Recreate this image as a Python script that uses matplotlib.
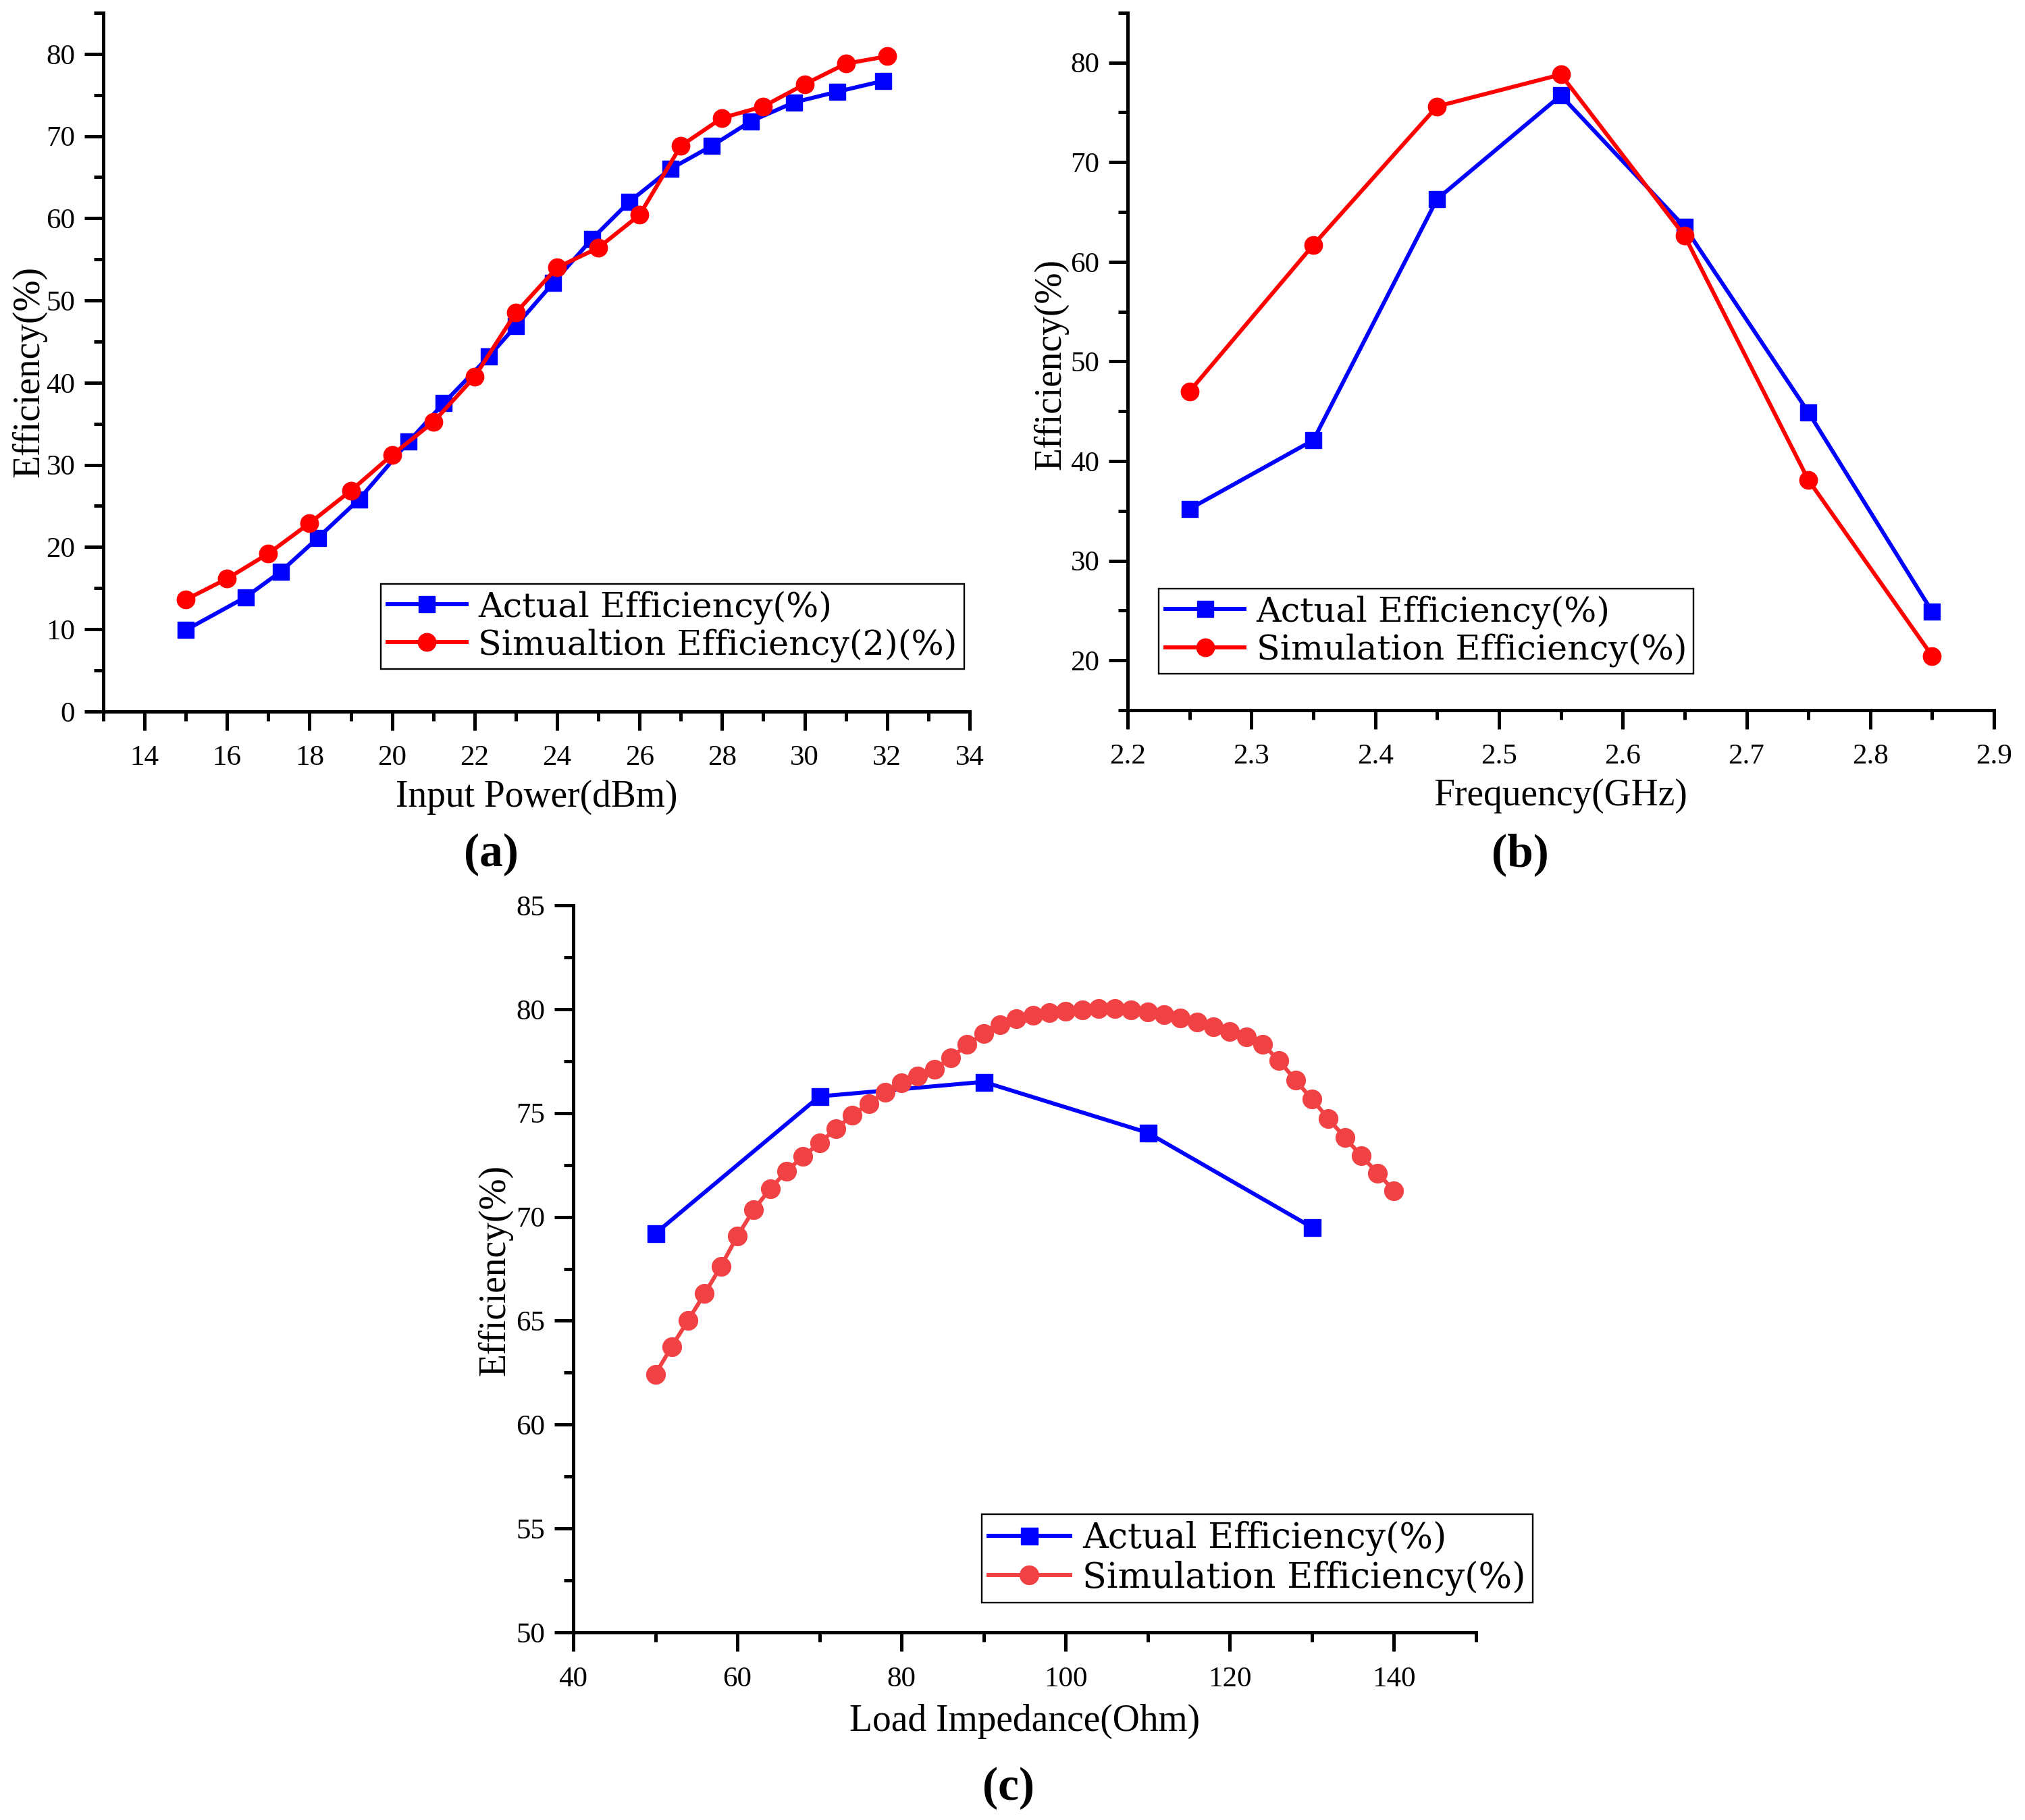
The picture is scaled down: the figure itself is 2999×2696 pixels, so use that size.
import matplotlib
matplotlib.use("Agg")
import matplotlib.pyplot as plt
from matplotlib.ticker import MultipleLocator

# ---------------- data ----------------
# (a) efficiency vs input power
a_act_x = [15.0, 16.45, 17.3, 18.2, 19.2, 20.4, 21.25, 22.35, 23.0, 23.9,
           24.85, 25.75, 26.75, 27.75, 28.7, 29.75, 30.8, 31.9]
a_act_y = [9.9, 13.9, 17.0, 21.1, 25.8, 32.8, 37.5, 43.2, 46.9, 52.1,
           57.5, 62.0, 66.0, 68.8, 71.8, 74.1, 75.4, 76.7]
a_sim_x = [15, 16, 17, 18, 19, 20, 21, 22, 23, 24, 25, 26, 27, 28, 29, 30, 31, 32]
a_sim_y = [13.6, 16.15, 19.2, 22.9, 26.85, 31.2, 35.2, 40.7, 48.5, 54.0,
           56.4, 60.4, 68.8, 72.2, 73.6, 76.3, 78.8, 79.7]

# (b) efficiency vs frequency
b_freq = [2.25, 2.35, 2.45, 2.55, 2.65, 2.75, 2.85]
b_act_y = [35.2, 42.1, 66.3, 76.7, 63.5, 44.9, 24.9]
b_sim_y = [47.0, 61.7, 75.6, 78.8, 62.6, 38.1, 20.45]

# (c) efficiency vs load impedance
c_act_x = [50, 70, 90, 110, 130]
c_act_y = [69.2, 75.8, 76.5, 74.05, 69.5]
c_sim_x = [50, 52, 54, 56, 58, 60, 62, 64, 66, 68, 70, 72, 74, 76, 78, 80,
           82, 84, 86, 88, 90, 92, 94, 96, 98, 100, 102, 104, 106, 108, 110,
           112, 114, 116, 118, 120, 122, 124, 126, 128, 130, 132, 134, 136,
           138, 140]
c_sim_y = [62.43, 63.76, 65.03, 66.3, 67.63, 69.08, 70.35, 71.36, 72.2, 72.92,
           73.55, 74.25, 74.88, 75.46, 76.01, 76.45, 76.79, 77.11, 77.66, 78.29,
           78.82, 79.25, 79.54, 79.71, 79.83, 79.91, 79.97, 80.03, 80.03, 79.97,
           79.88, 79.74, 79.57, 79.39, 79.16, 78.93, 78.67, 78.32, 77.51, 76.59,
           75.66, 74.74, 73.82, 72.95, 72.11, 71.27]

lbl_a = ["Actual Efficiency(%)", "Simualtion Efficiency(2)(%)"]
lbl_b = ["Actual Efficiency(%)", "Simulation Efficiency(%)"]
lbl_c = ["Actual Efficiency(%)", "Simulation Efficiency(%)"]

# ---------------- style ----------------
FONT = ["Liberation Serif", "DejaVu Serif"]
LEGFONT = ["DejaVu Serif", "Liberation Serif"]
plt.rcParams["font.family"] = FONT
LAB = 40
TICK = 31
BLUE = "#0000FF"
RED = "#FF0000"
RED_C = "#F04244"
LW = 4.3
SPINE = 3.6

fig = plt.figure(figsize=(29.99, 26.96), dpi=100)


def style_axes(ax, xmaj, xmin, ymaj, ymin):
    for s in ["top", "right"]:
        ax.spines[s].set_visible(False)
    for s in ["left", "bottom"]:
        ax.spines[s].set_linewidth(SPINE)
    ax.xaxis.set_major_locator(MultipleLocator(xmaj))
    ax.yaxis.set_major_locator(MultipleLocator(ymaj))
    if xmin:
        ax.xaxis.set_minor_locator(MultipleLocator(xmin))
    if ymin:
        ax.yaxis.set_minor_locator(MultipleLocator(ymin))
    ax.tick_params(axis="both", which="major", direction="out", length=20,
                   width=SPINE, labelsize=TICK)
    ax.tick_params(axis="both", which="minor", direction="out", length=10,
                   width=SPINE)
    ax.tick_params(axis="x", which="major", pad=16)
    ax.tick_params(axis="y", which="major", pad=10)


def add_legend(ax, anchor, size):
    leg = ax.legend(loc="lower left", bbox_to_anchor=anchor,
                    prop={"family": LEGFONT, "size": size},
                    frameon=True, fancybox=False, borderaxespad=0,
                    handlelength=2.3, handletextpad=0.35, borderpad=0.2,
                    labelspacing=0.12, edgecolor="black", framealpha=1)
    leg.get_frame().set_linewidth(1.7)
    return leg


def labels(ax, xl, yl, xpos, ypos):
    ax.set_xlabel(xl, fontsize=LAB, va="center", ha="center")
    ax.xaxis.set_label_coords(0.5, xpos)
    ax.set_ylabel(yl, fontsize=LAB, va="center", ha="center")
    ax.yaxis.set_label_coords(ypos[0], ypos[1])


# ---- (a) ----
ax1 = fig.add_axes([0.0510, 0.6091, 0.4278, 0.3839])
ax1.plot(a_act_x, a_act_y, color=BLUE, lw=LW, marker="s", ms=17,
         label=lbl_a[0])
ax1.plot(a_sim_x, a_sim_y, color=RED, lw=LW, marker="o", ms=19,
         label=lbl_a[1])
ax1.set_xlim(13, 34)
ax1.set_ylim(0, 85)
style_axes(ax1, 2, 1, 10, 5)
labels(ax1, "Input Power(dBm)", "Efficiency(%)", -0.123, (-0.0855, 0.486))
add_legend(ax1, (0.3203, 0.0609), 36.5)

# ---- (b) ----
ax2 = fig.add_axes([0.5569, 0.6098, 0.4278, 0.3832])
ax2.plot(b_freq, b_act_y, color=BLUE, lw=LW, marker="s", ms=17,
         label=lbl_b[0])
ax2.plot(b_freq, b_sim_y, color=RED, lw=LW, marker="o", ms=19,
         label=lbl_b[1])
ax2.set_xlim(2.2, 2.9)
ax2.set_ylim(15, 85)
style_axes(ax2, 0.1, 0.05, 10, 5)
labels(ax2, "Frequency(GHz)", "Efficiency(%)", -0.123, (-0.0885, 0.496))
add_legend(ax2, (0.0358, 0.0523), 36.5)

# ---- (c) ----
ax3 = fig.add_axes([0.2831, 0.1031, 0.4458, 0.3995])
ax3.plot(c_act_x, c_act_y, color=BLUE, lw=LW, marker="s", ms=18,
         label=lbl_c[0])
ax3.plot(c_sim_x, c_sim_y, color=RED_C, lw=LW, marker="o", ms=20,
         label=lbl_c[1])
ax3.set_xlim(40, 150)
ax3.set_ylim(50, 85)
style_axes(ax3, 20, 10, 5, 2.5)
labels(ax3, "Load Impedance(Ohm)", "Efficiency(%)", -0.1225, (-0.0868, 0.498))
add_legend(ax3, (0.4525, 0.0409), 37.6)

# panel tags
for txt, x, y in [("(a)", 0.2424, 0.5304), ("(b)", 0.7506, 0.5304),
                  ("(c)", 0.498, 0.0174)]:
    fig.text(x, y, txt, fontsize=50, fontweight="bold", ha="center",
             va="center", family=FONT)

fig.savefig("out.png", dpi=100, facecolor="white")
